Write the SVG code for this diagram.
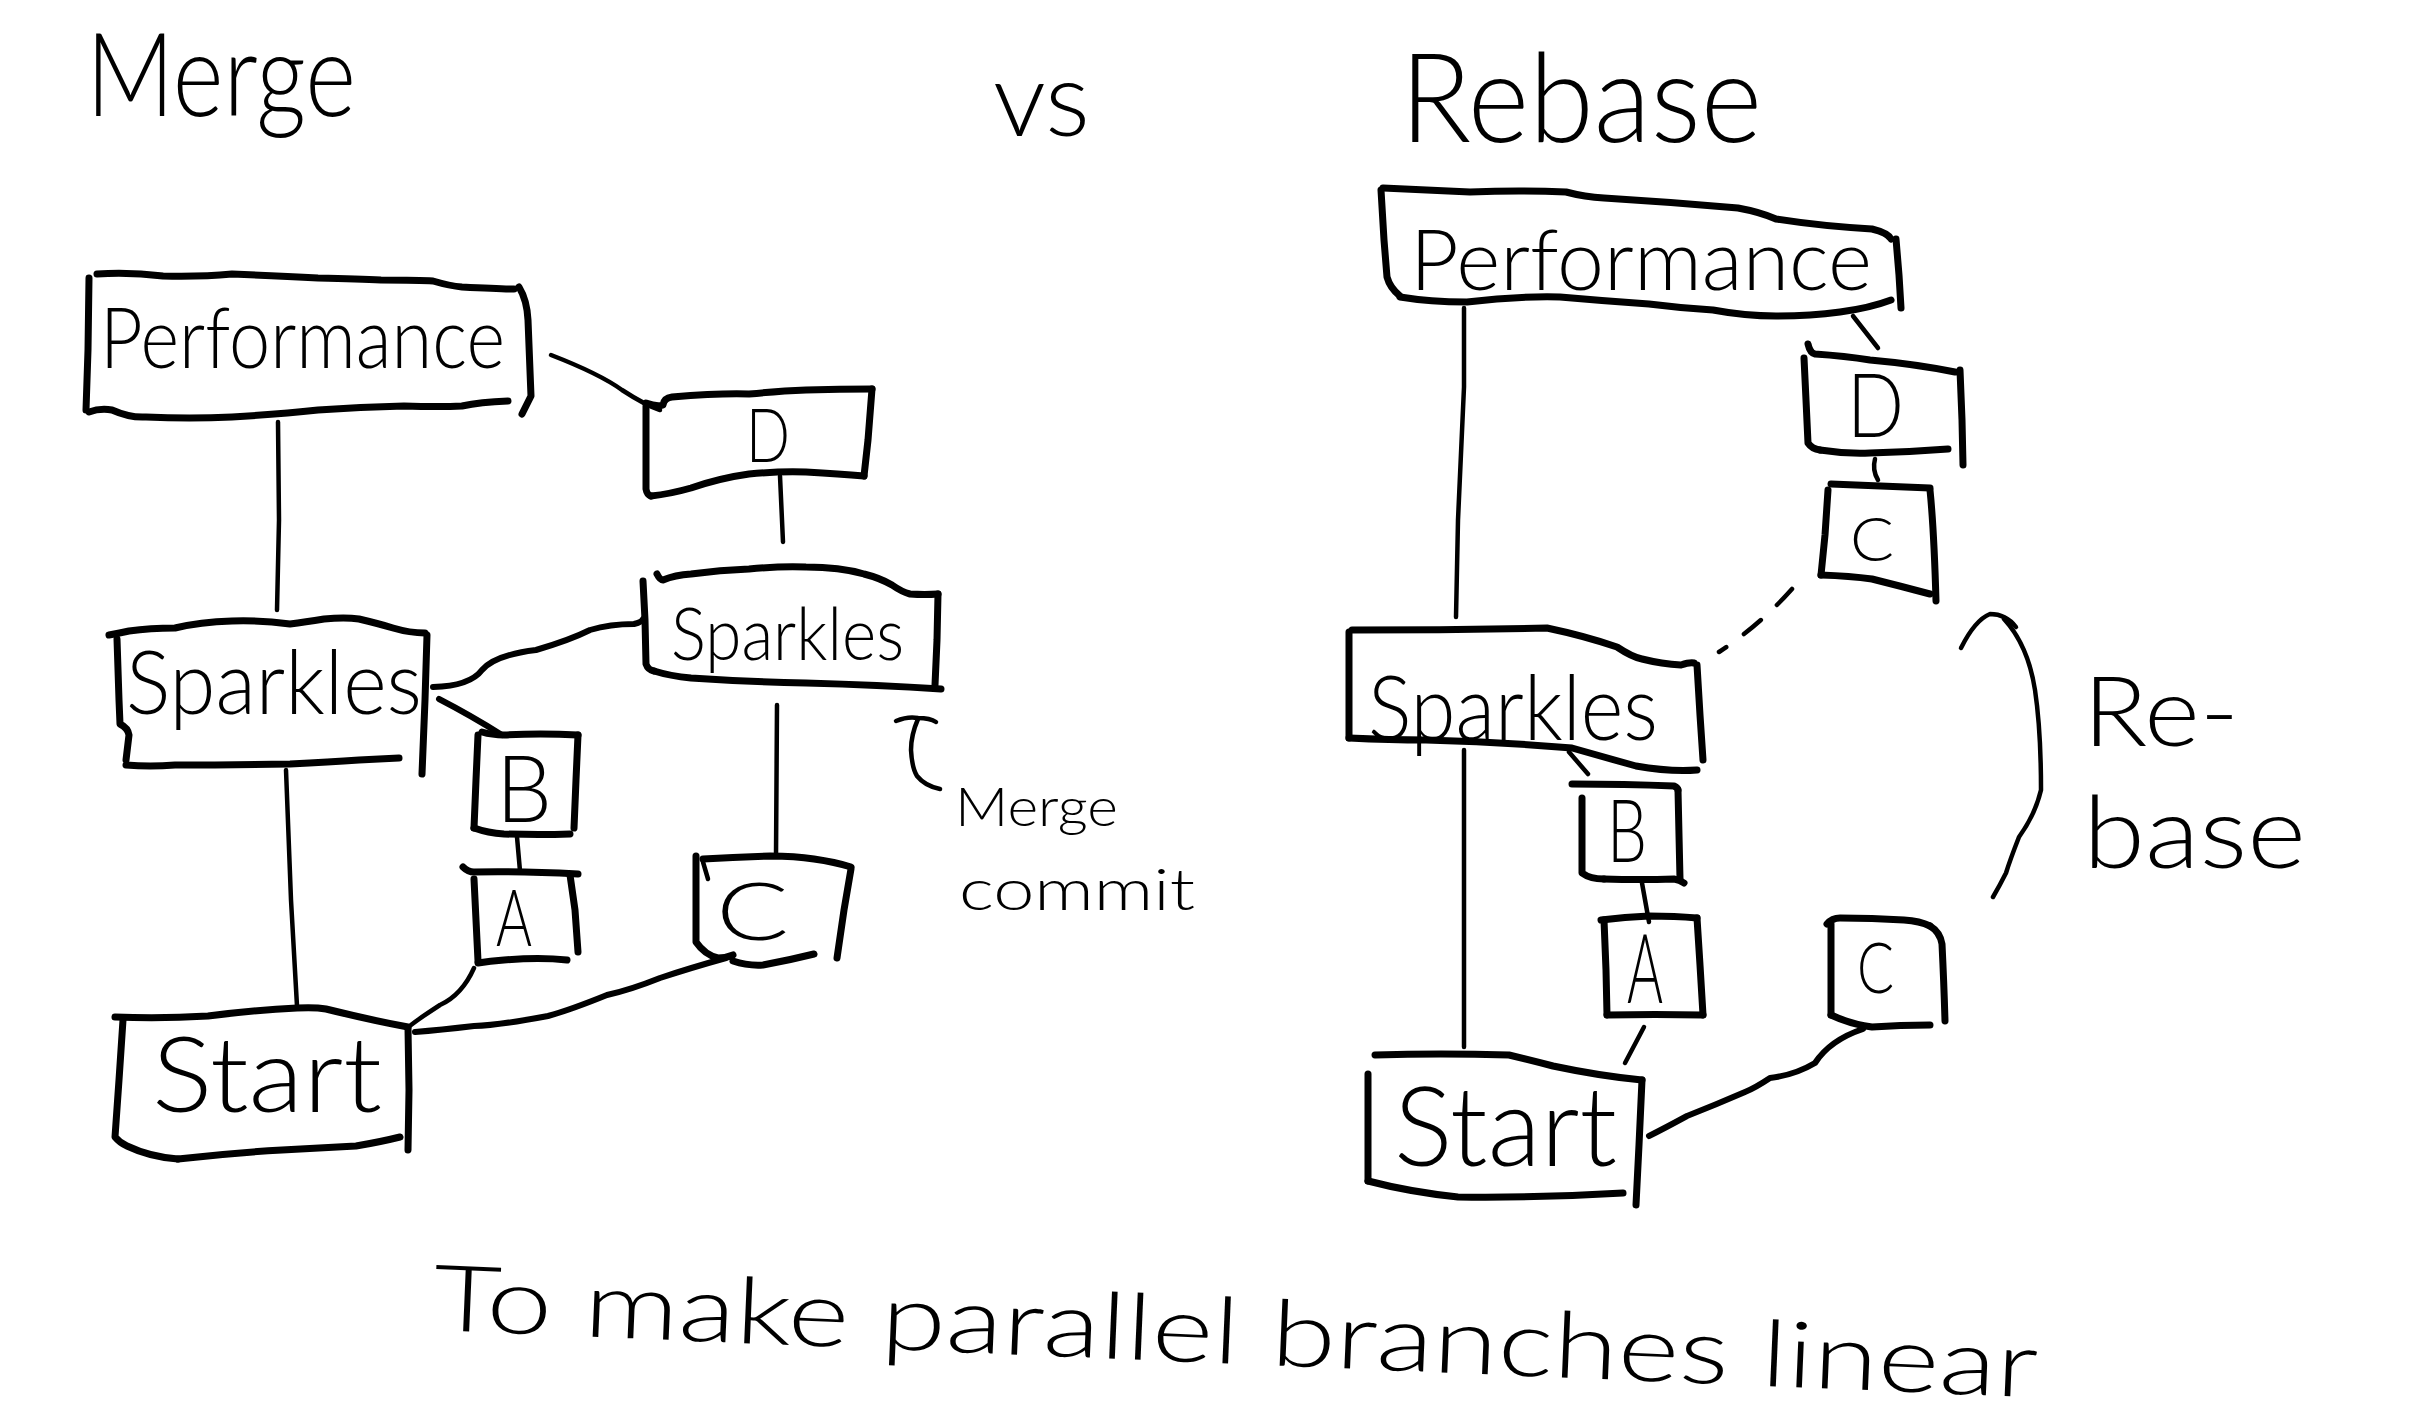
<svg xmlns="http://www.w3.org/2000/svg" width="2429" height="1421" viewBox="0 0 2429 1421">
<style>
.bg{fill:#ffffff}
.box{fill:none;stroke:#000;stroke-width:7;stroke-linecap:round;stroke-linejoin:round}
.ln{fill:none;stroke:#000;stroke-width:4.5;stroke-linecap:round;stroke-linejoin:round}
.lnb{fill:none;stroke:#000;stroke-width:6;stroke-linecap:round;stroke-linejoin:round}
.dash{fill:none;stroke:#000;stroke-width:4.5;stroke-linecap:round;stroke-dasharray:22 22}
text{font-family:Lato,"Open Sans","Liberation Sans",sans-serif;font-weight:300;fill:#000}
</style>
<rect class="bg" x="0" y="0" width="2429" height="1421"/>

<!-- titles -->
<g id="title-merge"><text x="86" y="116" font-size="116" textLength="270" lengthAdjust="spacingAndGlyphs">Merge</text></g>
<g id="title-vs"><text x="993" y="136" font-size="104" textLength="97" lengthAdjust="spacingAndGlyphs">vs</text></g>
<g id="title-rebase"><text x="1400" y="142" font-size="124" textLength="362" lengthAdjust="spacingAndGlyphs">Rebase</text></g>

<!-- connectors -->
<g id="connectors">
  <!-- merge side -->
  <path class="ln" d="M278,422 L279,520 L277,610"/>
  <path class="ln" d="M551,355 Q600,374 622,390 Q645,405 660,410"/>
  <path class="ln" d="M780,476 L783,542"/>
  <path class="lnb" d="M433,687 Q470,686 482,670 Q495,655 536,650 Q570,640 590,630 Q610,624 634,624 Q642,622 643,619"/>
  <path class="lnb" d="M439,699 Q470,715 502,735"/>
  <path class="ln" d="M517,837 L520,871"/>
  <path class="ln" d="M777,705 L776,856"/>
  <path class="ln" d="M474,968 Q462,995 440,1005 Q420,1018 411,1025"/>
  <path class="lnb" d="M726,958 Q690,968 660,978 Q630,990 607,995 Q570,1010 548,1016 Q500,1025 474,1026 Q440,1030 415,1032"/>
  <path class="ln" d="M286,770 L291,900 L297,1006"/>
  <!-- rebase side -->
  <path class="ln" d="M1464,308 L1464,387 L1458,520 L1456,617"/>
  <path class="ln" d="M1853,316 L1878,348"/>
  <path class="ln" d="M1875,459 Q1872,470 1878,480"/>
  <path class="dash" d="M1792,589 Q1760,625 1719,652"/>
  <path class="ln" d="M1464,750 L1464,1047"/>
  <path class="ln" d="M1569,752 L1588,774"/>
  <path class="ln" d="M1642,883 L1649,922"/>
  <path class="ln" d="M1644,1027 L1625,1063"/>
  <path class="lnb" d="M1863,1029 Q1830,1040 1815,1063 Q1795,1075 1770,1078 Q1755,1088 1745,1092 Q1715,1105 1687,1116 Q1665,1128 1649,1136"/>
</g>

<!-- merge side nodes -->
<g id="perf-merge">
  <path class="box" d="M97,274 Q130,272 163,276 Q200,277 232,274 Q280,276 318,278 Q360,279 381,280 Q420,280 433,281 Q450,286 462,287 Q500,289 514,289"/>
  <path class="box" d="M89,278 L88,350 L86,410"/>
  <path class="box" d="M89,412 Q100,408 112,410 Q130,418 146,417 Q190,419 232,417 Q280,414 318,410 Q360,407 404,406 Q440,407 462,406 Q480,402 508,401"/>
  <path class="box" d="M519,287 Q527,300 528,320 L531,396 L522,414"/>
  <text x="100" y="368" font-size="84" textLength="405" lengthAdjust="spacingAndGlyphs">Performance</text>
</g>
<g id="d-merge">
  <path class="box" d="M646,403 Q657,407 663,405 Q664,398 672,397 Q720,393 749,394 Q780,391 806,390 Q840,389 872,389"/>
  <path class="box" d="M646,406 L646,489 Q647,495 651,496"/>
  <path class="box" d="M651,496 Q670,494 691,488 Q720,478 749,474 Q780,471 806,472 Q840,474 864,476"/>
  <path class="box" d="M872,389 L868,440 L864,476"/>
  <text x="746" y="462" font-size="74" textLength="44" lengthAdjust="spacingAndGlyphs">D</text>
</g>
<g id="sparkles-main-merge">
  <path class="box" d="M109,635 Q120,633 129,631 Q150,628 175,628 Q200,622 232,621 Q260,620 290,624 Q305,622 324,619 Q345,617 359,619 Q380,624 393,628 Q410,633 425,633"/>
  <path class="box" d="M117,639 L119,700 L120,724 Q128,728 129,735 L126,760"/>
  <path class="box" d="M126,765 Q150,767 175,765 Q230,765 290,764 Q330,762 359,760 Q380,759 399,758"/>
  <path class="box" d="M427,635 L425,700 L422,774"/>
  <text x="126" y="714" font-size="88" textLength="296" lengthAdjust="spacingAndGlyphs">Sparkles</text>
</g>
<g id="sparkles-feature-merge">
  <path class="box" d="M657,574 Q660,580 663,580 Q675,575 691,574 Q720,570 749,569 Q780,566 806,567 Q840,567 864,574 Q880,578 892,585 Q902,592 910,594 Q925,595 938,594"/>
  <path class="box" d="M643,581 L645,620 L646,664 Q648,670 654,671"/>
  <path class="box" d="M654,671 Q670,676 691,678 Q750,682 806,683 Q880,685 941,689"/>
  <path class="box" d="M938,594 L937,640 L935,685"/>
  <text x="671" y="660" font-size="72" textLength="233" lengthAdjust="spacingAndGlyphs">Sparkles</text>
</g>
<g id="b-merge">
  <path class="box" d="M482,732 Q492,735 504,735 Q540,733 578,735"/>
  <path class="box" d="M478,735 L476,780 L474,828"/>
  <path class="box" d="M474,828 Q488,833 504,834 Q540,835 570,834"/>
  <path class="box" d="M578,735 L576,780 L574,828"/>
  <text x="496" y="822" font-size="92" textLength="56" lengthAdjust="spacingAndGlyphs">B</text>
</g>
<g id="a-merge">
  <path class="box" d="M463,867 Q468,872 474,872 Q520,871 578,874"/>
  <path class="box" d="M474,879 L476,920 L478,961"/>
  <path class="box" d="M478,963 Q490,961 504,960 Q540,957 567,960"/>
  <path class="box" d="M570,875 L575,910 L578,952"/>
  <text x="496" y="946" font-size="78" textLength="36" lengthAdjust="spacingAndGlyphs">A</text>
</g>
<g id="c-merge">
  <path class="box" d="M703,859 Q735,857 770,856 Q795,856 814,859 Q835,862 851,867"/>
  <path class="box" d="M696,856 L696,942 Q705,955 718,958 Q726,958 733,955"/>
  <path class="box" d="M733,961 Q748,966 763,965 Q790,960 814,954"/>
  <path class="box" d="M851,869 L844,910 L837,958"/>
  <path class="ln" d="M703,862 L708,879"/>
  <text x="716" y="940" font-size="80" textLength="73" lengthAdjust="spacingAndGlyphs">C</text>
</g>
<g id="start-merge">
  <path class="box" d="M115,1017 Q160,1019 208,1016 Q255,1010 297,1008 Q315,1007 326,1009 Q370,1020 408,1027"/>
  <path class="box" d="M123,1020 L119,1080 L115,1137 Q120,1143 127,1146 Q150,1157 178,1159"/>
  <path class="box" d="M178,1159 Q230,1153 282,1150 Q320,1148 356,1146 Q380,1142 400,1137"/>
  <path class="box" d="M408,1028 L409,1090 L408,1150"/>
  <text x="152" y="1112" font-size="104" textLength="230" lengthAdjust="spacingAndGlyphs">Start</text>
</g>
<g id="merge-commit-note">
  <path class="ln" d="M896,721 Q908,716 918,718 Q930,718 936,722"/>
  <path class="ln" d="M918,719 Q911,735 911,750 Q912,768 917,776 Q925,786 940,789"/>
  <text x="955" y="826" font-size="54" textLength="163" lengthAdjust="spacingAndGlyphs">Merge</text>
  <text x="959" y="910" font-size="58" textLength="236" lengthAdjust="spacingAndGlyphs">commit</text>
</g>

<!-- rebase side nodes -->
<g id="perf-rebase">
  <path class="box" d="M1383,188 Q1425,190 1470,192 Q1520,190 1566,192 Q1585,197 1604,198 Q1670,202 1738,208 Q1760,212 1776,219 Q1820,226 1872,229 Q1888,233 1891,239"/>
  <path class="box" d="M1381,190 L1384,240 L1387,277 Q1390,288 1400,296"/>
  <path class="box" d="M1400,297 Q1430,302 1467,302 Q1515,296 1560,297 Q1605,301 1649,304 Q1680,308 1713,310 Q1745,316 1776,316 Q1810,316 1840,312 Q1870,308 1891,300"/>
  <path class="box" d="M1896,239 L1899,275 L1901,308"/>
  <text x="1410" y="290" font-size="84" textLength="462" lengthAdjust="spacingAndGlyphs">Performance</text>
</g>
<g id="d-rebase">
  <path class="box" d="M1808,344 Q1810,353 1815,354 Q1845,356 1870,360 Q1915,364 1955,372"/>
  <path class="box" d="M1804,358 L1806,400 L1808,443 Q1812,449 1820,450"/>
  <path class="box" d="M1820,450 Q1845,454 1870,453 Q1910,452 1948,449"/>
  <path class="box" d="M1960,370 L1962,420 L1963,465"/>
  <text x="1847" y="437" font-size="88" textLength="57" lengthAdjust="spacingAndGlyphs">D</text>
</g>
<g id="c-rebase-moved">
  <path class="box" d="M1831,484 Q1880,486 1930,488"/>
  <path class="box" d="M1828,490 L1825,535 L1821,575"/>
  <path class="box" d="M1821,575 Q1850,576 1872,579 Q1900,586 1930,594"/>
  <path class="box" d="M1930,490 Q1934,530 1936,601"/>
  <text x="1850" y="561" font-size="62" textLength="44" lengthAdjust="spacingAndGlyphs">C</text>
</g>
<g id="sparkles-rebase">
  <path class="box" d="M1352,630 Q1450,630 1547,628 Q1585,636 1617,647 Q1632,657 1642,659 Q1662,664 1681,665 Q1690,662 1694,663"/>
  <path class="box" d="M1349,632 L1349,690 L1349,738"/>
  <path class="box" d="M1349,738 Q1390,740 1426,740 Q1500,742 1572,748 Q1600,756 1636,766 Q1670,772 1697,770"/>
  <path class="box" d="M1697,665 L1700,715 L1703,760"/>
  <text x="1368" y="740" font-size="90" textLength="290" lengthAdjust="spacingAndGlyphs">Sparkles</text>
</g>
<g id="b-rebase">
  <path class="box" d="M1572,784 Q1625,784 1674,786 Q1678,788 1678,790"/>
  <path class="box" d="M1582,798 L1582,873 Q1590,879 1604,879"/>
  <path class="box" d="M1604,879 Q1640,880 1674,879 Q1680,880 1684,883"/>
  <path class="box" d="M1678,790 L1679,835 L1680,879"/>
  <text x="1607" y="862" font-size="86" textLength="40" lengthAdjust="spacingAndGlyphs">B</text>
</g>
<g id="a-rebase">
  <path class="box" d="M1601,920 Q1625,917 1649,916 Q1675,916 1697,918"/>
  <path class="box" d="M1604,920 L1606,970 L1607,1015"/>
  <path class="box" d="M1607,1015 Q1655,1014 1703,1015"/>
  <path class="box" d="M1697,918 L1700,965 L1703,1015"/>
  <text x="1627" y="1003" font-size="96" textLength="36" lengthAdjust="spacingAndGlyphs">A</text>
</g>
<g id="c-rebase-original">
  <path class="box" d="M1827,924 Q1832,918 1840,918 Q1872,918 1904,920 Q1920,921 1930,926"/>
  <path class="box" d="M1831,924 L1831,970 L1831,1015"/>
  <path class="box" d="M1831,1015 Q1850,1024 1872,1027 Q1900,1025 1930,1025"/>
  <path class="box" d="M1930,926 Q1940,932 1942,944 Q1944,985 1945,1021"/>
  <text x="1857" y="993" font-size="70" textLength="37" lengthAdjust="spacingAndGlyphs">C</text>
</g>
<g id="start-rebase">
  <path class="box" d="M1375,1055 Q1440,1053 1509,1055 Q1530,1060 1553,1066 Q1600,1076 1642,1080"/>
  <path class="box" d="M1368,1074 L1368,1130 L1368,1181"/>
  <path class="box" d="M1368,1181 Q1410,1192 1458,1197 Q1540,1198 1623,1193"/>
  <path class="box" d="M1642,1080 L1639,1145 L1636,1205"/>
  <text x="1394" y="1166" font-size="110" textLength="223" lengthAdjust="spacingAndGlyphs">Start</text>
</g>
<g id="rebase-note">
  <path class="ln" d="M1961,648 Q1975,620 1990,614 Q2006,614 2016,627"/>
  <path class="ln" d="M2004,619 Q2028,645 2035,690 Q2041,730 2041,790 Q2035,815 2019,837 Q2010,860 2006,873 Q2000,885 1993,897"/>
  <text x="2083" y="746" font-size="96" textLength="156" lengthAdjust="spacingAndGlyphs">Re-</text>
  <text x="2083" y="868" font-size="100" textLength="223" lengthAdjust="spacingAndGlyphs">base</text>
</g>

<!-- caption -->
<g id="caption">
  <text x="432" y="1330" font-size="92" textLength="1606" lengthAdjust="spacingAndGlyphs" transform="rotate(2.4 432 1330)">To make parallel branches linear</text>
</g>
</svg>
